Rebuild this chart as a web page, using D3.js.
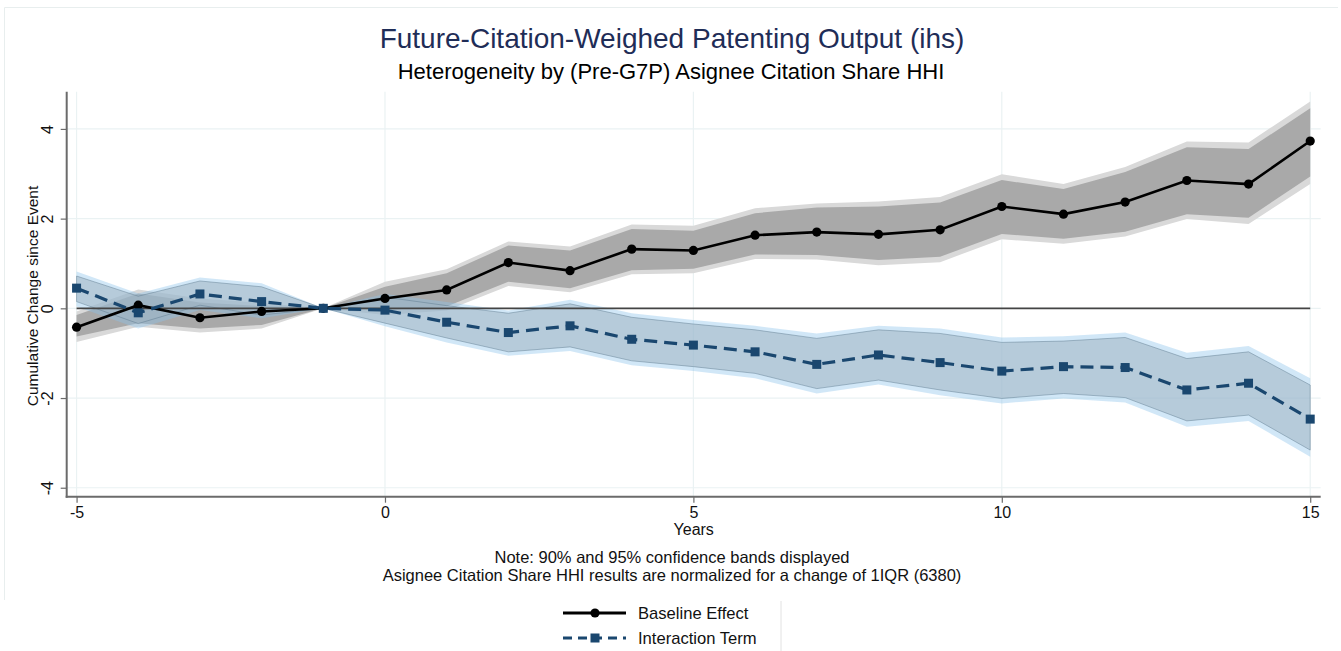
<!DOCTYPE html>
<html>
<head>
<meta charset="utf-8">
<script src="https://cdn.jsdelivr.net/npm/d3@7"></script>
<style>
  body { margin: 0; background: #fff; }
  text { font-family: "Liberation Sans", Arial, Helvetica, sans-serif; }
</style>
</head>
<body>
<div id="chart-area"></div>
<script>
/* Data */
const years = [-5, -4, -3, -2, -1, 0, 1, 2, 3, 4, 5, 6, 7, 8, 9, 10, 11, 12, 13, 14, 15]

const baseline = [-0.42, 0.07, -0.21, -0.07, 0, 0.22, 0.41, 1.02, 0.84, 1.32, 1.29, 1.63, 1.70, 1.65, 1.75, 2.27, 2.10, 2.37, 2.85, 2.77, 3.73]
const baseHi95 = [-0.07, 0.42, 0.22, 0.12, 0, 0.59, 0.87, 1.49, 1.38, 1.87, 1.84, 2.23, 2.34, 2.38, 2.48, 2.99, 2.77, 3.15, 3.72, 3.70, 4.61]
const baseHi90 = [-0.15, 0.33, 0.13, 0.05, 0, 0.48, 0.78, 1.40, 1.29, 1.77, 1.73, 2.12, 2.25, 2.27, 2.36, 2.86, 2.66, 3.04, 3.59, 3.55, 4.46]
const baseLo90 = [-0.63, -0.33, -0.45, -0.37, 0, -0.04, 0.04, 0.59, 0.45, 0.85, 0.88, 1.20, 1.19, 1.08, 1.15, 1.66, 1.55, 1.71, 2.10, 2.02, 2.94]
const baseLo95 = [-0.75, -0.41, -0.54, -0.45, 0, -0.15, -0.05, 0.50, 0.36, 0.76, 0.78, 1.10, 1.09, 0.96, 1.03, 1.54, 1.44, 1.60, 1.99, 1.88, 2.77]

const inter = [0.45, -0.10, 0.32, 0.15, 0, -0.04, -0.31, -0.54, -0.39, -0.69, -0.82, -0.97, -1.25, -1.04, -1.21, -1.40, -1.30, -1.32, -1.82, -1.67, -2.47]
const interHi95 = [0.82, 0.33, 0.69, 0.56, 0, 0.32, 0.14, -0.05, 0.19, -0.11, -0.26, -0.39, -0.56, -0.39, -0.45, -0.65, -0.62, -0.54, -0.99, -0.84, -1.56]
const interHi90 = [0.72, 0.27, 0.61, 0.48, 0, 0.25, 0.06, -0.11, 0.10, -0.20, -0.35, -0.48, -0.67, -0.48, -0.56, -0.76, -0.73, -0.65, -1.12, -0.97, -1.71]
const interLo90 = [0.15, -0.34, 0.07, -0.15, 0, -0.33, -0.66, -0.97, -0.86, -1.17, -1.30, -1.45, -1.79, -1.60, -1.82, -2.01, -1.90, -1.99, -2.51, -2.38, -3.16]
const interLo95 = [0.04, -0.45, -0.04, -0.22, 0, -0.40, -0.76, -1.06, -0.95, -1.27, -1.40, -1.56, -1.90, -1.70, -1.94, -2.12, -2.01, -2.10, -2.64, -2.51, -3.31]

const xTicks = [-5, 0, 5, 10, 15]
const yTicks = [-4, -2, 0, 2, 4]

/* Canvas */
const CANVAS_WIDTH = 1341
const CANVAS_HEIGHT = 651

const $canvas = d3.select('#chart-area')
  .append('svg')
  .attr('width', CANVAS_WIDTH)
  .attr('height', CANVAS_HEIGHT)

// faint outer frame
$canvas.append('path')
  .attr('d', 'M4.5,600 V7.5 H1338')
  .attr('fill', 'none')
  .attr('stroke', '#e8eeee')
  .attr('stroke-width', 1)

/* Scales */
const plot = { left: 66.7, right: 1320.7, top: 91.7, bottom: 496.7 }

const scaleX = d3.scaleLinear()
  .domain([-5.16, 15.17])
  .range([plot.left, plot.right])

const scaleY = d3.scaleLinear()
  .domain([-4.2, 4.83])
  .range([plot.bottom, plot.top])

const $group = $canvas.append('g')

/* Grid */
$group.append('g')
  .selectAll('line')
  .data(yTicks)
  .enter().append('line')
  .attr('x1', plot.left).attr('x2', plot.right)
  .attr('y1', d => scaleY(d)).attr('y2', d => scaleY(d))
  .attr('stroke', '#eaf2f3')
  .attr('stroke-width', 1.2)

$group.append('g')
  .selectAll('line')
  .data(xTicks)
  .enter().append('line')
  .attr('x1', d => scaleX(d)).attr('x2', d => scaleX(d))
  .attr('y1', plot.top).attr('y2', plot.bottom)
  .attr('stroke', '#eaf2f3')
  .attr('stroke-width', 1.2)

/* Bands */
const bandData = (lo, hi) => years.map((y, i) => ({ x: y, lo: lo[i], hi: hi[i] }))
const area = d3.area()
  .x(d => scaleX(d.x))
  .y0(d => scaleY(d.lo))
  .y1(d => scaleY(d.hi))

$group.append('path')
  .datum(bandData(baseLo95, baseHi95))
  .attr('d', area)
  .attr('fill', '#d9d9d9')

$group.append('path')
  .datum(bandData(baseLo90, baseHi90))
  .attr('d', area)
  .attr('fill', '#a9a9a9')

$group.append('path')
  .datum(bandData(interLo95, interHi95))
  .attr('d', area)
  .attr('fill', 'rgba(140,195,235,0.4)')

$group.append('path')
  .datum(bandData(interLo90, interHi90))
  .attr('d', area)
  .attr('fill', 'rgba(160,180,194,0.55)')
  .attr('stroke', 'rgba(90,120,140,0.45)')
  .attr('stroke-width', 1)

/* Zero line */
$group.append('line')
  .attr('x1', scaleX(-5)).attr('x2', scaleX(15))
  .attr('y1', scaleY(0)).attr('y2', scaleY(0))
  .attr('stroke', '#444')
  .attr('stroke-width', 1.6)

/* Axes */
const fmt = d => String(d)

const yAxisCall = d3.axisLeft(scaleY).tickValues(yTicks).tickSize(6).tickPadding(6).tickFormat(fmt)
const $yAxis = $group.append('g')
  .attr('transform', `translate(${plot.left}, 0)`)
  .call(yAxisCall)
$yAxis.select('.domain').remove()
$yAxis.append('line')
  .attr('x1', 0).attr('x2', 0)
  .attr('y1', plot.top).attr('y2', plot.bottom + 1)
  .attr('stroke', '#6b6b6b').attr('stroke-width', 2)
$yAxis.selectAll('.tick line').attr('stroke', '#6b6b6b').attr('stroke-width', 1.2)
$yAxis.selectAll('.tick text')
  .attr('font-size', 16)
  .attr('fill', '#111')
  .attr('text-anchor', 'middle')
  .attr('x', 0)
  .attr('dy', 0)
  .attr('transform', 'translate(-19, 0) rotate(-90)')
  .attr('dominant-baseline', 'central')

const xAxisCall = d3.axisBottom(scaleX).tickValues(xTicks).tickSize(6).tickPadding(4).tickFormat(fmt)
const $xAxis = $group.append('g')
  .attr('transform', `translate(0, ${plot.bottom})`)
  .call(xAxisCall)
$xAxis.select('.domain').remove()
$xAxis.append('line')
  .attr('x1', plot.left - 1).attr('x2', plot.right)
  .attr('y1', 0).attr('y2', 0)
  .attr('stroke', '#6b6b6b').attr('stroke-width', 2)
$xAxis.selectAll('.tick line').attr('stroke', '#6b6b6b').attr('stroke-width', 1.2)
$xAxis.selectAll('.tick text').attr('font-size', 16).attr('fill', '#111')

/* Lines */
const pts = vals => years.map((y, i) => ({ x: y, v: vals[i] }))
const line = d3.line().x(d => scaleX(d.x)).y(d => scaleY(d.v))

$group.append('path')
  .datum(pts(baseline))
  .attr('d', line)
  .attr('fill', 'none')
  .attr('stroke', '#000')
  .attr('stroke-width', 2.6)

$group.append('path')
  .datum(pts(inter))
  .attr('d', line)
  .attr('fill', 'none')
  .attr('stroke', '#1a476f')
  .attr('stroke-width', 3.2)
  .attr('stroke-dasharray', '13,7')

$group.append('g')
  .selectAll('circle')
  .data(pts(baseline))
  .enter().append('circle')
  .attr('cx', d => scaleX(d.x))
  .attr('cy', d => scaleY(d.v))
  .attr('r', 4.6)
  .attr('fill', '#000')

$group.append('g')
  .selectAll('rect')
  .data(pts(inter))
  .enter().append('rect')
  .attr('x', d => scaleX(d.x) - 4.5)
  .attr('y', d => scaleY(d.v) - 4.5)
  .attr('width', 9)
  .attr('height', 9)
  .attr('fill', '#1a476f')

/* Labels */
$canvas.append('text')
  .attr('x', 672).attr('y', 48)
  .attr('text-anchor', 'middle')
  .attr('font-size', 28)
  .attr('fill', '#1f2d57')
  .text('Future-Citation-Weighed Patenting Output (ihs)')

$canvas.append('text')
  .attr('x', 671).attr('y', 79)
  .attr('text-anchor', 'middle')
  .attr('font-size', 22)
  .attr('fill', '#000')
  .text('Heterogeneity by (Pre-G7P) Asignee Citation Share HHI')

$canvas.append('text')
  .attr('x', -296).attr('y', 38)
  .attr('transform', 'rotate(-90)')
  .attr('text-anchor', 'middle')
  .attr('font-size', 15.5)
  .attr('fill', '#111')
  .text('Cumulative Change since Event')

$canvas.append('text')
  .attr('x', (plot.left + plot.right) / 2).attr('y', 535)
  .attr('text-anchor', 'middle')
  .attr('font-size', 16)
  .attr('fill', '#111')
  .text('Years')

$canvas.append('text')
  .attr('x', 672).attr('y', 563)
  .attr('text-anchor', 'middle')
  .attr('font-size', 16.5)
  .attr('fill', '#111')
  .text('Note: 90% and 95% confidence bands displayed')

$canvas.append('text')
  .attr('x', 672).attr('y', 580.5)
  .attr('text-anchor', 'middle')
  .attr('font-size', 16.5)
  .attr('fill', '#111')
  .text('Asignee Citation Share HHI results are normalized for a change of 1IQR (6380)')

/* Legend */
const $legend = $canvas.append('g')
$legend.append('line')
  .attr('x1', 781).attr('x2', 781).attr('y1', 601).attr('y2', 651)
  .attr('stroke', '#e2e2e2').attr('stroke-width', 1)

$legend.append('line')
  .attr('x1', 563).attr('x2', 626).attr('y1', 613).attr('y2', 613)
  .attr('stroke', '#000').attr('stroke-width', 2.8)
$legend.append('circle')
  .attr('cx', 595).attr('cy', 613).attr('r', 4.6).attr('fill', '#000')
$legend.append('text')
  .attr('x', 638).attr('y', 619)
  .attr('font-size', 16.6).attr('fill', '#111')
  .text('Baseline Effect')

$legend.append('line')
  .attr('x1', 563).attr('x2', 626).attr('y1', 638).attr('y2', 638)
  .attr('stroke', '#1a476f').attr('stroke-width', 3.2)
  .attr('stroke-dasharray', '9,6')
$legend.append('rect')
  .attr('x', 590.5).attr('y', 633.5).attr('width', 9).attr('height', 9).attr('fill', '#1a476f')
$legend.append('text')
  .attr('x', 638).attr('y', 644)
  .attr('font-size', 16.6).attr('fill', '#111')
  .text('Interaction Term')
</script>
</body>
</html>
